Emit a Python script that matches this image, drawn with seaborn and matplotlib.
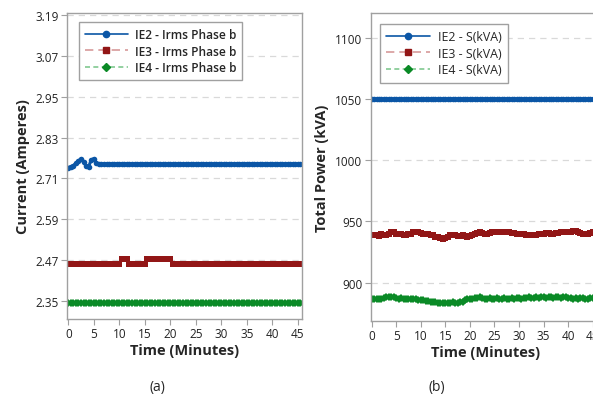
import numpy as np
import pandas as pd
import matplotlib
matplotlib.use("Agg")
import matplotlib.pyplot as plt
from matplotlib.lines import Line2D
import seaborn as sns

# ---------------- data (sampled every 0.5 min) ----------------
time_min = np.arange(0, 46.5, 0.5)

ie2_amp = [
    2.742, 2.745, 2.748, 2.755, 2.762, 2.768, 2.758, 2.746, 2.745, 2.765,
    2.768, 2.756, 2.752, 2.752, 2.752, 2.752, 2.752, 2.752, 2.752, 2.752,
    2.752, 2.752, 2.752, 2.752, 2.752, 2.752, 2.752, 2.752, 2.752, 2.752,
    2.752, 2.752, 2.752, 2.752, 2.752, 2.752, 2.752, 2.752, 2.752, 2.752,
    2.752, 2.752, 2.752, 2.752, 2.752, 2.752, 2.752, 2.752, 2.752, 2.752,
    2.752, 2.752, 2.752, 2.752, 2.752, 2.752, 2.752, 2.752, 2.752, 2.752,
    2.752, 2.752, 2.752, 2.752, 2.752, 2.752, 2.752, 2.752, 2.752, 2.752,
    2.752, 2.752, 2.752, 2.752, 2.752, 2.752, 2.752, 2.752, 2.752, 2.752,
    2.752, 2.752, 2.752, 2.752, 2.752, 2.752, 2.752, 2.752, 2.752, 2.752,
    2.752, 2.752, 2.752,
]
ie3_amp = [
    2.458, 2.458, 2.458, 2.458, 2.458, 2.458, 2.458, 2.458, 2.458, 2.458,
    2.458, 2.458, 2.458, 2.458, 2.458, 2.458, 2.458, 2.458, 2.458, 2.458,
    2.458, 2.473, 2.473, 2.473, 2.458, 2.458, 2.458, 2.458, 2.458, 2.458,
    2.458, 2.473, 2.473, 2.473, 2.473, 2.473, 2.473, 2.473, 2.473, 2.473,
    2.473, 2.458, 2.458, 2.458, 2.458, 2.458, 2.458, 2.458, 2.458, 2.458,
    2.458, 2.458, 2.458, 2.458, 2.458, 2.458, 2.458, 2.458, 2.458, 2.458,
    2.458, 2.458, 2.458, 2.458, 2.458, 2.458, 2.458, 2.458, 2.458, 2.458,
    2.458, 2.458, 2.458, 2.458, 2.458, 2.458, 2.458, 2.458, 2.458, 2.458,
    2.458, 2.458, 2.458, 2.458, 2.458, 2.458, 2.458, 2.458, 2.458, 2.458,
    2.458, 2.458, 2.458,
]
ie4_amp = [
    2.343, 2.345, 2.344, 2.343, 2.345, 2.344, 2.345, 2.343, 2.344, 2.345,
    2.343, 2.344, 2.345, 2.343, 2.344, 2.345, 2.344, 2.343, 2.345, 2.344,
    2.343, 2.345, 2.344, 2.343, 2.345, 2.344, 2.345, 2.343, 2.344, 2.345,
    2.343, 2.344, 2.345, 2.343, 2.344, 2.345, 2.344, 2.343, 2.345, 2.344,
    2.343, 2.345, 2.344, 2.343, 2.345, 2.344, 2.345, 2.343, 2.344, 2.345,
    2.343, 2.344, 2.345, 2.343, 2.344, 2.345, 2.344, 2.343, 2.345, 2.344,
    2.343, 2.345, 2.344, 2.343, 2.345, 2.344, 2.345, 2.343, 2.344, 2.345,
    2.343, 2.344, 2.345, 2.343, 2.344, 2.345, 2.344, 2.343, 2.345, 2.344,
    2.343, 2.345, 2.344, 2.343, 2.345, 2.344, 2.345, 2.343, 2.344, 2.345,
    2.343, 2.344, 2.345,
]

ie2_kva = [
    1050, 1050, 1050, 1050, 1050, 1050, 1050, 1050, 1050, 1050,
    1050, 1050, 1050, 1050, 1050, 1050, 1050, 1050, 1050, 1050,
    1050, 1050, 1050, 1050, 1050, 1050, 1050, 1050, 1050, 1050,
    1050, 1050, 1050, 1050, 1050, 1050, 1050, 1050, 1050, 1050,
    1050, 1050, 1050, 1050, 1050, 1050, 1050, 1050, 1050, 1050,
    1050, 1050, 1050, 1050, 1050, 1050, 1050, 1050, 1050, 1050,
    1050, 1050, 1050, 1050, 1050, 1050, 1050, 1050, 1050, 1050,
    1050, 1050, 1050, 1050, 1050, 1050, 1050, 1050, 1050, 1050,
    1050, 1050, 1050, 1050, 1050, 1050, 1050, 1050, 1050, 1050,
    1050, 1050, 1050,
]
ie3_kva = [
    939, 938.5, 938.5, 938, 939.5, 939, 939, 940, 941, 941.5,
    940, 939.5, 939.5, 939, 939, 939.5, 940, 941, 941.5, 941,
    940.5, 940, 940, 939.5, 939, 938.5, 937.5, 937, 936.5, 935.5,
    936.5, 937.5, 938.5, 938.5, 938.5, 938, 938, 938.5, 938, 937.5,
    938, 938.5, 939.5, 940.5, 941, 940.5, 940, 940, 940.5, 941,
    941.5, 941.5, 941.5, 941, 941.5, 941.5, 941, 940.5, 940.5, 940,
    940, 939.5, 939.5, 939, 939, 938.5, 938.5, 939, 939.5, 940,
    940, 940.5, 940.5, 940, 940, 940.5, 940.5, 941, 941, 941,
    941, 941.5, 942.5, 942, 941, 940.5, 940, 939.5, 939.5, 940.5,
    941, 940.5, 940,
]
ie4_kva = [
    886.5, 887, 887, 886.5, 887, 887.5, 888, 888.5, 888, 888.5,
    887.5, 887, 887.5, 887, 887, 886.5, 887, 886.5, 886.5, 886,
    885.5, 885.5, 885, 885, 884.5, 884, 884, 883.5, 883.5, 883.5,
    883.5, 883.5, 883.5, 884, 883.5, 883.5, 884, 884.5, 886, 886.5,
    887, 887, 887.5, 887.5, 888, 887.5, 887, 887, 887.5, 887,
    887, 887.5, 887, 887, 887.5, 887, 887, 887.5, 887, 887.5,
    887.5, 887, 887.5, 887.5, 888, 887.5, 887.5, 888, 887.5, 888,
    888, 887.5, 888, 888, 887.5, 888, 888, 887.5, 888, 888,
    887.5, 887.5, 887, 887.5, 887, 887.5, 887.5, 887, 887, 887.5,
    887.5, 887, 887.5,
]

amp_ticks = [2.35, 2.47, 2.59, 2.71, 2.83, 2.95, 3.07, 3.19]
kva_ticks = [900, 950, 1000, 1050, 1100]
time_ticks = [0, 5, 10, 15, 20, 25, 30, 35, 40, 45]

labels_a = ["IE2 - Irms Phase b", "IE3 - Irms Phase b", "IE4 - Irms Phase b"]
labels_b = ["IE2 - S(kVA)", "IE3 - S(kVA)", "IE4 - S(kVA)"]

# ---------------- style ----------------
sns.set_theme(style="white")
plt.rcParams['font.family'] = ['Open Sans', 'DejaVu Sans']

C_BLUE = "#0b56a6"
C_RED = "#921616"
C_GREEN = "#0a8a26"
LIGHT = {"IE2": C_BLUE, "IE3": "#d79a9a", "IE4": "#80c890"}
DARK = {"IE2": C_BLUE, "IE3": C_RED, "IE4": C_GREEN}
MARK = {"IE2": "o", "IE3": "s", "IE4": "D"}
LS = {"IE2": "-", "IE3": (0, (5, 3)), "IE4": (0, (3, 2))}
FRAME = "#a0a0a0"

fig = plt.figure(figsize=(5.93, 4.02), dpi=100)
ax_a = fig.add_axes([0.113, 0.204, 0.396, 0.761])
ax_b = fig.add_axes([0.625, 0.200, 0.387, 0.765])


def panel(ax, series, names, ylabel, yticks, ylim, xlim, fmt, legend_weight,
          anchor, fsize):
    frames = []
    for key, vals in series:
        frames.append(pd.DataFrame({"Time": time_min, "Value": vals, "Series": key}))
    df = pd.concat(frames, ignore_index=True)
    sns.lineplot(data=df, x="Time", y="Value", hue="Series", style="Series",
                 palette=DARK, markers=MARK, dashes=False, markersize=4,
                 markeredgewidth=0, linewidth=2.2, legend=False, ax=ax)
    ax.set_xlim(*xlim)
    ax.set_ylim(*ylim)
    ax.set_yticks(yticks)
    ax.set_yticklabels([fmt.format(v) for v in yticks])
    ax.set_xticks(time_ticks)
    ax.grid(axis="y", color="#d9d9d9", linestyle=(0, (5, 4)), linewidth=0.9)
    ax.grid(axis="x", visible=False)
    for sp in ax.spines.values():
        sp.set_color(FRAME)
        sp.set_linewidth(1.0)
    ax.tick_params(axis="both", which="major", direction="out", length=4,
                   width=0.8, color=FRAME, labelsize=8.5, labelcolor="#222222",
                   pad=2, left=True, bottom=True)
    ax.set_xlabel("Time (Minutes)", fontsize=10.5, fontweight="bold", labelpad=2)
    ax.set_ylabel(ylabel, fontsize=10.5, fontweight="bold", labelpad=4)
    handles = []
    for key in ["IE2", "IE3", "IE4"]:
        handles.append(Line2D([0], [0], color=LIGHT[key], linestyle=LS[key],
                              linewidth=1.2, marker=MARK[key], markevery=[1],
                              markersize=4.5 if key != "IE4" else 4,
                              markerfacecolor=DARK[key], markeredgecolor=DARK[key]))
    leg = ax.legend(handles, names, loc="upper left", bbox_to_anchor=anchor,
                    frameon=True, fancybox=False, edgecolor=FRAME, framealpha=1,
                    handlelength=3.6, handletextpad=0.6,
                    borderpad=0.5, labelspacing=0.3,
                    prop={"size": fsize, "weight": legend_weight})
    leg.get_frame().set_linewidth(1.0)
    return ax


panel(ax_a, [("IE2", ie2_amp), ("IE3", ie3_amp), ("IE4", ie4_amp)], labels_a,
      "Current (Amperes)", amp_ticks, (2.297, 3.196), (-0.25, 45.8), "{:.2f}",
      "semibold", (0.025, 0.99), 8.6)
panel(ax_b, [("IE2", ie2_kva), ("IE3", ie3_kva), ("IE4", ie4_kva)], labels_b,
      "Total Power (kVA)", kva_ticks, (869, 1120), (-0.2, 46.5), "{:.0f}",
      "normal", (0.012, 0.985), 8.9)

fig.text(0.266, 0.035, "(a)", ha="center", va="center", fontsize=10)
fig.text(0.737, 0.035, "(b)", ha="center", va="center", fontsize=10)

fig.savefig("out.png", dpi=100)
